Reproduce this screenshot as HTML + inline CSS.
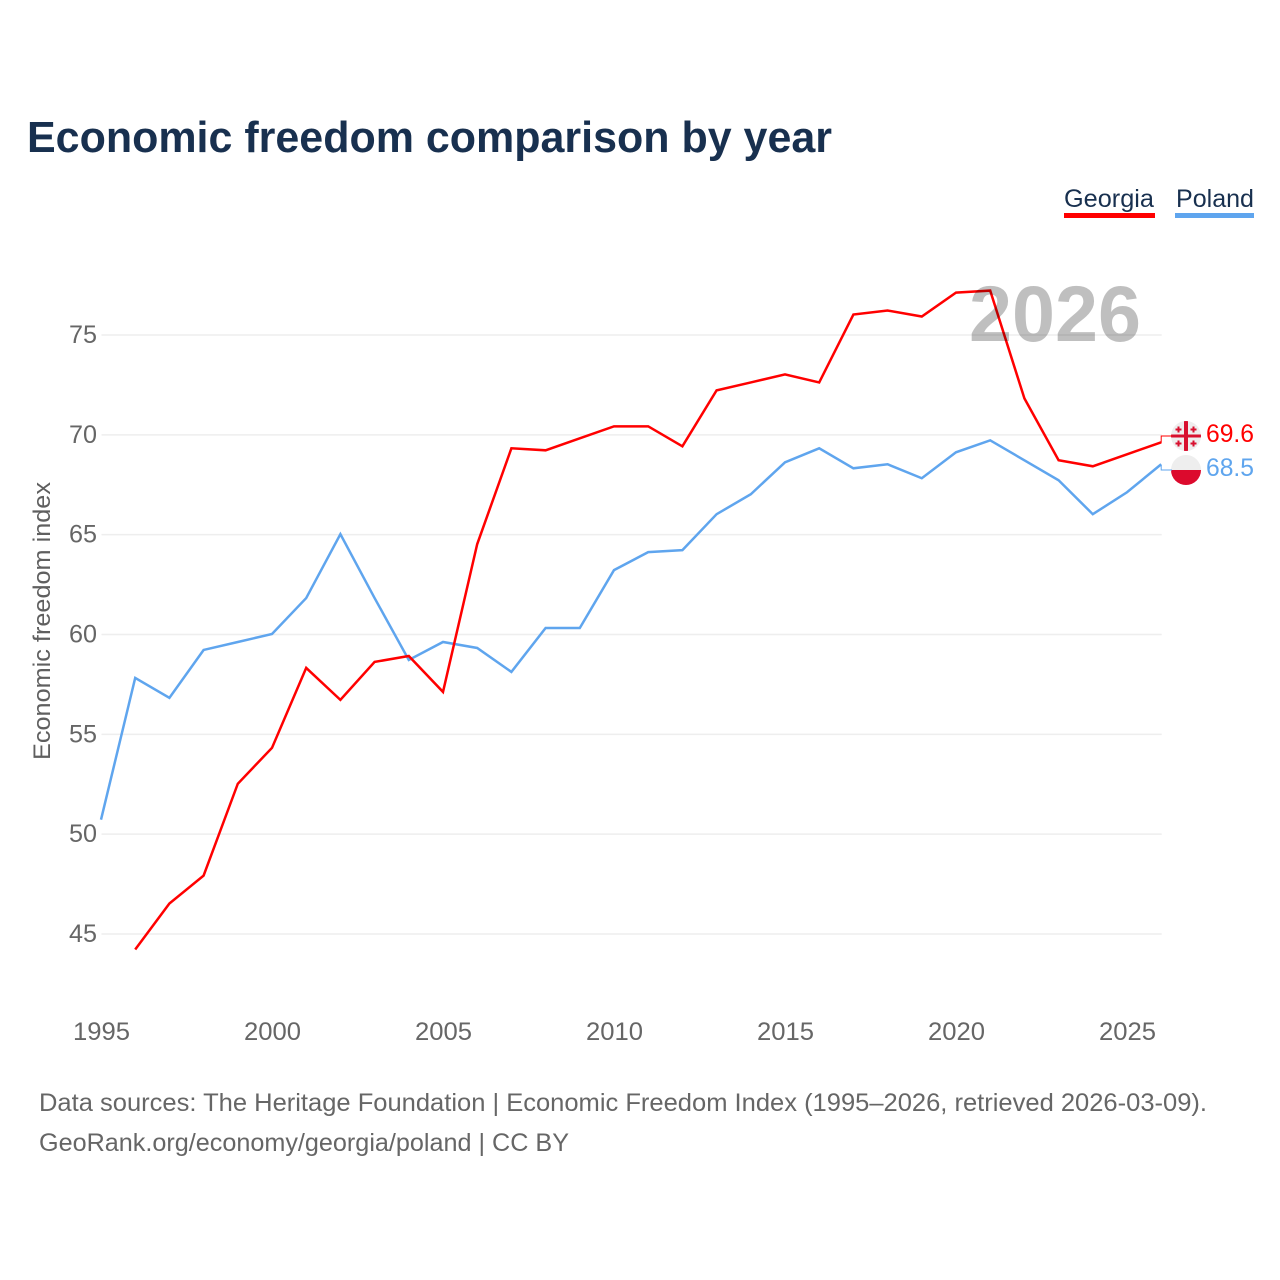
<!DOCTYPE html>
<html lang="en">
<head>
<meta charset="utf-8">
<title>Economic freedom comparison by year</title>
<style>
html,body{margin:0;padding:0;background:#fff;width:1280px;height:1280px;overflow:hidden}
svg{display:block}
text{font-family:"Liberation Sans",sans-serif}
</style>
</head>
<body>
<svg id="chart" width="1280" height="1280" viewBox="0 0 1280 1280" xmlns="http://www.w3.org/2000/svg">
  <defs>
    <clipPath id="flag-clip-ge"><circle cx="1186" cy="436" r="15"/></clipPath>
    <clipPath id="flag-clip-pl"><circle cx="1186" cy="470" r="15"/></clipPath>
  </defs>
  <rect width="1280" height="1280" fill="#fff"/>
  <text x="27" y="152" font-size="44" font-weight="700" fill="#18304f" textLength="805" lengthAdjust="spacingAndGlyphs">Economic freedom comparison by year</text>

  <g>
    <g>
      <text x="1064" y="207" font-size="25" fill="#18304f" textLength="90" lengthAdjust="spacingAndGlyphs">Georgia</text>
      <rect x="1064" y="213" width="91" height="5" fill="#ff0000"/>
    </g>
    <g>
      <text x="1176" y="207" font-size="25" fill="#18304f" textLength="78" lengthAdjust="spacingAndGlyphs">Poland</text>
      <rect x="1175" y="213" width="79" height="5" fill="#5fa5ee"/>
    </g>
  </g>

  <g id="grid"></g>
  <g id="yticks"></g>
  <g id="xticks"></g>
  <text transform="translate(50,621) rotate(-90)" text-anchor="middle" font-size="24" fill="#5f5f5f" textLength="278" lengthAdjust="spacingAndGlyphs">Economic freedom index</text>

  <g id="series" transform="translate(-0.5,-0.5)"></g>

  <text x="1055" y="341" text-anchor="middle" font-size="79" font-weight="700" fill="#000" fill-opacity="0.25" textLength="172" lengthAdjust="spacingAndGlyphs">2026</text>

  <g>
    <g clip-path="url(#flag-clip-ge)">
      <rect x="1171" y="421" width="30" height="30" fill="#eeeeee"/>
      <rect x="1184" y="421" width="4" height="30" fill="#d8102f"/>
      <rect x="1171" y="434.5" width="30" height="3" fill="#d8102f"/>
      <g fill="#d8102f">
        <path d="M1177.5 426.5h2v2h2v2h-2v2h-2v-2h-2v-2h2z"/>
        <path d="M1192.5 426.5h2v2h2v2h-2v2h-2v-2h-2v-2h2z"/>
        <path d="M1177.5 440.5h2v2h2v2h-2v2h-2v-2h-2v-2h2z"/>
        <path d="M1192.5 440.5h2v2h2v2h-2v2h-2v-2h-2v-2h2z"/>
      </g>
    </g>
  </g>
  <g>
    <g clip-path="url(#flag-clip-pl)">
      <rect x="1171" y="455" width="30" height="15" fill="#eeeeee"/>
      <rect x="1171" y="470" width="30" height="15" fill="#dc0a2d"/>
    </g>
  </g>
  <g id="endlabels"></g>

  <text x="39" y="1111" font-size="25" fill="#666666" textLength="1168" lengthAdjust="spacingAndGlyphs">Data sources: The Heritage Foundation | Economic Freedom Index (1995–2026, retrieved 2026-03-09).</text>
  <text x="39" y="1151" font-size="25" fill="#666666" textLength="530" lengthAdjust="spacingAndGlyphs">GeoRank.org/economy/georgia/poland | CC BY</text>

<script>
const years = [1995,1996,1997,1998,1999,2000,2001,2002,2003,2004,2005,2006,2007,2008,2009,2010,2011,2012,2013,2014,2015,2016,2017,2018,2019,2020,2021,2022,2023,2024,2025,2026];
const georgia = [null,44.2,46.5,47.9,52.5,54.3,58.3,56.7,58.6,58.9,57.1,64.5,69.3,69.2,69.8,70.4,70.4,69.4,72.2,72.6,73.0,72.6,76.0,76.2,75.9,77.1,77.2,71.8,68.7,68.4,69.0,69.6];
const poland = [50.7,57.8,56.8,59.2,59.6,60.0,61.8,65.0,61.8,58.7,59.6,59.3,58.1,60.3,60.3,63.2,64.1,64.2,66.0,67.0,68.6,69.3,68.3,68.5,67.8,69.1,69.7,68.7,67.7,66.0,67.1,68.5];
const yTickLabels = [45,50,55,60,65,70,75];
const xTickLabels = [1995,2000,2005,2010,2015,2020,2025];

const NS = 'http://www.w3.org/2000/svg';
const x = function (yr) { return 101.5 + (yr - 1995) * (1127.5 - 101.5) / 30; };
const y = function (v) { return 934 - (v - 45) * (934 - 335) / 30; };
const svgEl = function (tag, parent) {
  const el = document.createElementNS(NS, tag);
  document.getElementById(parent).appendChild(el);
  return el;
};

yTickLabels.forEach(function (t) {
  const line = svgEl('line', 'grid');
  
  
  line.setAttribute('x1', 101.5);
  line.setAttribute('x2', 1161.7);
  line.setAttribute('y1', y(t));
  line.setAttribute('y2', y(t));
  line.setAttribute('stroke', '#eeeeee');
  line.setAttribute('stroke-width', '1.5');
  const label = svgEl('text', 'yticks');
  
  
  label.setAttribute('x', 97);
  label.setAttribute('y', y(t) + 8);
  label.setAttribute('text-anchor', 'end');
  label.setAttribute('font-size', '25');
  label.setAttribute('fill', '#666666');
  label.setAttribute('textLength', '28');
  label.setAttribute('lengthAdjust', 'spacingAndGlyphs');
  label.textContent = t;
});

xTickLabels.forEach(function (t) {
  const label = svgEl('text', 'xticks');
  
  
  label.setAttribute('x', x(t));
  label.setAttribute('y', 1040);
  label.setAttribute('text-anchor', 'middle');
  label.setAttribute('font-size', '25');
  label.setAttribute('fill', '#666666');
  label.setAttribute('textLength', '57');
  label.setAttribute('lengthAdjust', 'spacingAndGlyphs');
  label.textContent = t;
});

const pathFor = function (vals) {
  let d = '';
  vals.forEach(function (v, i) {
    if (v === null) return;
    d += (d ? 'L' : 'M') + x(years[i]).toFixed(2) + ' ' + y(v).toFixed(2);
  });
  return d;
};

const poLine = svgEl('path', 'series');


poLine.setAttribute('d', pathFor(poland));
poLine.setAttribute('fill', 'none');
poLine.setAttribute('stroke', '#5fa5ee');
poLine.setAttribute('stroke-width', '2.5');

const geLine = svgEl('path', 'series');


geLine.setAttribute('d', pathFor(georgia));
geLine.setAttribute('fill', 'none');
geLine.setAttribute('stroke', '#ff0000');
geLine.setAttribute('stroke-width', '2.5');

const lastX = x(years[years.length - 1]);
const geLast = georgia[georgia.length - 1];
const poLast = poland[poland.length - 1];

const geConn = svgEl('path', 'endlabels');


geConn.setAttribute('d', 'M' + (lastX - 0.5) + ' ' + y(geLast) + 'V436H1172');
geConn.setAttribute('fill', 'none');
geConn.setAttribute('stroke', '#ff0000');
geConn.setAttribute('stroke-width', '1');

const poConn = svgEl('path', 'endlabels');


poConn.setAttribute('d', 'M' + (lastX - 0.5) + ' ' + y(poLast) + 'V470H1172');
poConn.setAttribute('fill', 'none');
poConn.setAttribute('stroke', '#5fa5ee');
poConn.setAttribute('stroke-width', '1');

const geVal = svgEl('text', 'endlabels');


geVal.setAttribute('x', 1206);
geVal.setAttribute('y', 442);
geVal.setAttribute('font-size', '25');
geVal.setAttribute('fill', '#ff0000');
geVal.setAttribute('textLength', '48');
geVal.setAttribute('lengthAdjust', 'spacingAndGlyphs');
geVal.textContent = geLast.toFixed(1);

const poVal = svgEl('text', 'endlabels');


poVal.setAttribute('x', 1206);
poVal.setAttribute('y', 476);
poVal.setAttribute('font-size', '25');
poVal.setAttribute('fill', '#5fa5ee');
poVal.setAttribute('textLength', '48');
poVal.setAttribute('lengthAdjust', 'spacingAndGlyphs');
poVal.textContent = poLast.toFixed(1);
</script>
</svg>
</body>
</html>
